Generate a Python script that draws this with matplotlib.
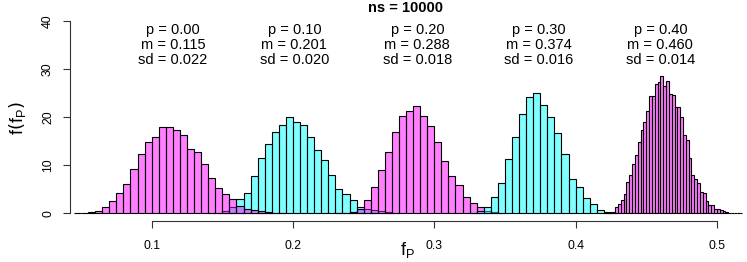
import numpy as np
import matplotlib
matplotlib.use('Agg')
import matplotlib.pyplot as plt

plt.rcParams['font.family'] = ['Liberation Sans', 'DejaVu Sans']
plt.rcParams['mathtext.default'] = 'regular'

# densities, one list per p value
p_vals = ['0.00', '0.10', '0.20', '0.30', '0.40']
means = [0.115, 0.201, 0.288, 0.374, 0.460]
sds = ['0.022', '0.020', '0.018', '0.016', '0.014']
bin_start = [0.045, 0.140, 0.230, 0.325, 0.420]
bin_width = [0.005, 0.005, 0.005, 0.005, 0.002]

dens_p00 = [0.05, 0.1, 0.2, 0.5, 1.25, 2.6, 4.3, 6.1, 9.2, 12.4, 14.9, 16.0, 18.05,
            18.05, 17.4, 16.4, 13.5, 12.85, 10.2, 7.3, 5.3, 4.0, 2.9, 1.6, 1.0, 0.7,
            0.45, 0.3, 0.15, 0.1]
dens_p10 = [0.05, 0.15, 0.4, 1.4, 2.9, 4.3, 7.8, 11.6, 14.4, 17.0, 18.4, 20.1, 19.1,
            18.5, 15.8, 13.2, 11.1, 8.0, 5.0, 4.0, 2.8, 1.4, 1.0, 0.7, 0.4, 0.2, 0.1]
dens_p20 = [0.05, 0.1, 0.35, 1.0, 2.8, 5.4, 9.0, 12.8, 17.0, 20.2, 21.3, 22.4, 20.2,
            18.1, 14.9, 10.9, 7.7, 5.9, 3.5, 2.2, 1.25, 0.55, 0.2, 0.05]
dens_p30 = [0.1, 0.5, 1.3, 3.4, 6.4, 11.25, 16.0, 20.6, 24.2, 25.1, 22.6, 20.0, 16.7,
            12.4, 7.1, 5.5, 3.1, 2.0, 0.7, 0.35, 0.1]
dens_p40 = [0.05, 0.05, 0.15, 0.3, 1.4, 1.9, 2.8, 4.0, 6.6, 7.9, 10.2, 12.2, 14.9, 17.4,
            19.1, 21.3, 24.4, 24.4, 26.9, 27.3, 28.7, 26.6, 27.6, 24.8, 24.7, 22.2,
            22.1, 20.1, 16.3, 15.3, 11.5, 8.0, 7.1, 6.25, 4.4, 4.2, 2.6, 1.7, 1.7, 0.8,
            0.8, 0.7, 0.4, 0.3, 0.15, 0.1, 0.05, 0.05, 0.05]
densities = [dens_p00, dens_p10, dens_p20, dens_p30, dens_p40]

colors = [(1, 0, 1, 0.5), (0, 1, 1, 0.5)]
draw_order = [1, 0, 2, 3, 4]

W, H = 747, 262
fig = plt.figure(figsize=(W / 100, H / 100), dpi=100)
ax = fig.add_axes([70 / W, 41 / H, 676 / W, 207.4 / H])

for z, i in enumerate(draw_order):
    h = np.array(densities[i])
    lefts = bin_start[i] + bin_width[i] * np.arange(len(h))
    ax.bar(lefts, h, width=bin_width[i], align='edge', color=colors[i % 2],
           edgecolor='black', linewidth=0.8, zorder=z + 1)

for i in range(5):
    ax.text(means[i], 35, 'p = %s\nm = %.3f\nsd = %s' % (p_vals[i], means[i], sds[i]),
            ha='center', va='center', fontsize=10.5, linespacing=1.1)

ax.set_xlim(0.0422, 0.5206)
ax.set_ylim(-1.6, 41.6)
for s in ['top', 'right']:
    ax.spines[s].set_visible(False)
ax.spines['left'].set_bounds(0, 40)
ax.spines['bottom'].set_bounds(0.1, 0.5)
for s in ['left', 'bottom']:
    ax.spines[s].set_color('#333333')
ax.set_xticks([0.1, 0.2, 0.3, 0.4, 0.5])
ax.set_xticklabels(['0.1', '0.2', '0.3', '0.4', '0.5'])
ax.set_yticks([0, 10, 20, 30, 40])
ax.tick_params(axis='x', length=5, width=0.8, pad=8.5, labelsize=8.8, colors='#333333',
               labelcolor='black')
ax.tick_params(axis='y', length=5, width=0.8, pad=6.5, labelsize=8.8, colors='#333333',
               labelcolor='black', labelrotation=90)
for lbl in ax.get_yticklabels():
    lbl.set_va('center')

fig.text(405 / W, 1 - 8 / H, 'ns = 10000', ha='center', va='center', fontsize=10.5,
         fontweight='bold')
fig.text(407 / W, 1 - 250 / H, r'$f_P$', ha='center', va='center', fontsize=13)
fig.text(18 / W, 1 - 118 / H, r'$f\left(f_P\right)$', ha='center', va='center',
         fontsize=13, rotation=90)

fig.savefig('out.png', dpi=100)
